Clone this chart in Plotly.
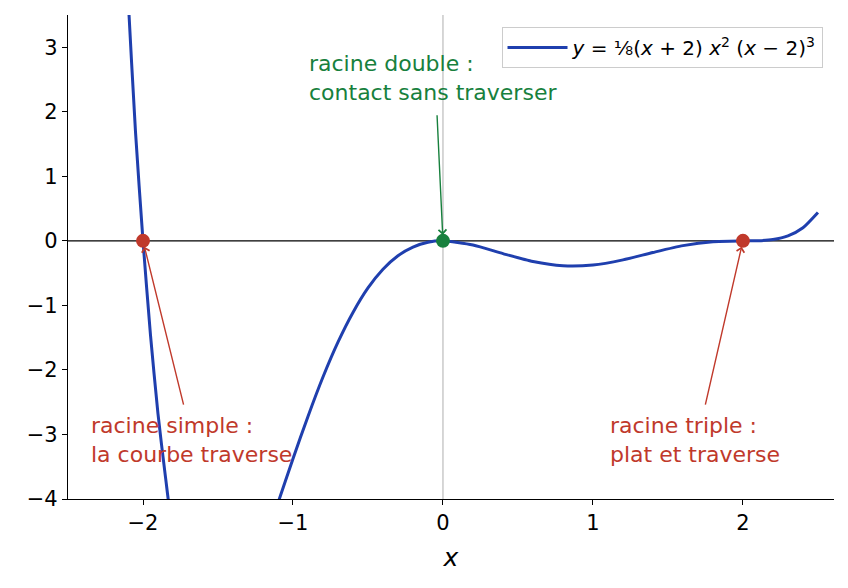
import plotly.graph_objects as go

# Curve points
curve_x = [-2.15, -2.1, -2.05, -2.0, -1.95, -1.9, -1.85, -1.8, -1.5, -1.3, -1.2, -1.1,
           -1.0, -0.9, -0.8, -0.7, -0.6, -0.5, -0.4, -0.3, -0.2, -0.1, 0.0,
           0.2, 0.4, 0.6, 0.8, 1.0, 1.2, 1.4, 1.6, 1.8, 2.0, 2.1, 2.2, 2.3, 2.4, 2.5]
curve_y = [6.19, 3.80, 1.69, 0.0, -1.46, -2.68, -3.66, -4.44, -6.03, -5.31, -4.72, -4.06,
           -3.375, -2.72, -2.11, -1.57, -1.11, -0.73, -0.44, -0.23, -0.096, -0.022, 0.0,
           -0.064, -0.197, -0.321, -0.387, -0.375, -0.295, -0.180, -0.074, -0.012, 0.0, 0.002, 0.020, 0.077, 0.203, 0.44]

# Roots and their labels
root_x = [-2, 0, 2]
root_y = [0, 0, 0]
root_labels = ["racine simple :<br>la courbe traverse",
               "racine double :<br>contact sans traverser",
               "racine triple :<br>plat et traverse"]
label_x = [-2.36, -0.907, 1.1]
label_y = [-3.09, 2.52, -3.09]
tail_x = [-1.727, -0.04, 1.747]
tail_y = [-2.56, 1.97, -2.56]

blue = "#1f3fae"
red = "#c0392b"
green = "#17803d"
root_colors = [red, green, red]

fig = go.Figure()

fig.add_trace(go.Scatter(
    x=curve_x, y=curve_y, mode="lines", line=dict(color=blue, width=3, shape="spline", smoothing=0.6),
    name="<i>y</i> = ⅛(<i>x</i> + 2) <i>x</i><sup>2</sup> (<i>x</i> − 2)<sup>3</sup>"
))

fig.add_trace(go.Scatter(
    x=root_x, y=root_y, mode="markers", showlegend=False, cliponaxis=False,
    marker=dict(color=root_colors, size=14, line=dict(width=0))
))

# Reference lines
fig.add_shape(type="line", x0=0, x1=0, y0=0, y1=1, xref="x", yref="paper",
              line=dict(color="#999999", width=0.8), layer="below")
fig.add_shape(type="line", x0=0, x1=1, y0=0, y1=0, xref="paper", yref="y",
              line=dict(color="black", width=1.2), layer="below")

for i in range(3):
    fig.add_annotation(x=label_x[i], y=label_y[i], text=root_labels[i], showarrow=False,
                       xanchor="left", yanchor="middle", align="left",
                       font=dict(color=root_colors[i], size=22))
    fig.add_annotation(x=root_x[i], y=root_y[i], ax=tail_x[i], ay=tail_y[i],
                       xref="x", yref="y", axref="x", ayref="y", text="",
                       showarrow=True, arrowhead=4, arrowsize=1.1, arrowwidth=1.4,
                       arrowcolor=root_colors[i], standoff=6)

fig.update_layout(
    width=840, height=580,
    margin=dict(l=60, r=14, t=7, b=89),
    plot_bgcolor="white", paper_bgcolor="white",
    font=dict(family="DejaVu Sans", size=21, color="black"),
    showlegend=True,
    legend=dict(x=0.985, y=0.975, xanchor="right", yanchor="top",
                bordercolor="#cccccc", borderwidth=1, bgcolor="white",
                font=dict(size=20), itemwidth=60),
    xaxis=dict(range=[-2.5, 2.607], tickvals=[-2, -1, 0, 1, 2], showgrid=False, zeroline=False,
               showline=True, linecolor="black", linewidth=1.2, ticks="outside", ticklen=5,
               tickcolor="black", title=dict(text="<i>x</i>", standoff=14)),
    yaxis=dict(range=[-4, 3.5], tickvals=[-4, -3, -2, -1, 0, 1, 2, 3], showgrid=False, zeroline=False,
               showline=True, linecolor="black", linewidth=1.2, ticks="outside", ticklen=5,
               tickcolor="black"),
)

fig.write_html("out.html")
